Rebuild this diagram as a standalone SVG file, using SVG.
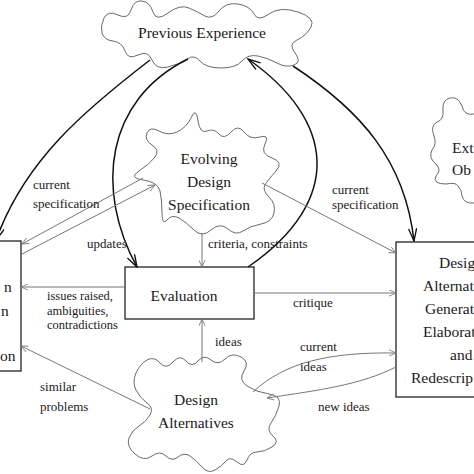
<svg xmlns="http://www.w3.org/2000/svg" width="474" height="474" viewBox="0 0 474 474">
<style>
text{font-family:"Liberation Serif","Times New Roman",serif;fill:#1a1a1a}
.big{font-size:15.5px}
.lab{font-size:13px}
.sm{font-size:12.5px}
.cloud{fill:#fff;stroke:#6a6a6a;stroke-width:1}
.box{fill:#fff;stroke:#222;stroke-width:1.3}
.g{fill:none;stroke:#777;stroke-width:1}
.k{fill:none;stroke:#111;stroke-width:1.5}
</style>
<defs>
<marker id="ag" viewBox="0 0 10 10" refX="10" refY="5" markerWidth="9" markerHeight="7" markerUnits="userSpaceOnUse" orient="auto"><path d="M0,0.5 L10,5 L0,9.5" fill="none" stroke="#777" stroke-width="1.2"/></marker>
<marker id="ak" viewBox="0 0 14 10" refX="14" refY="5" markerWidth="14" markerHeight="9" markerUnits="userSpaceOnUse" orient="auto"><path d="M0,0.5 L14,5 L0,9.5" fill="none" stroke="#111" stroke-width="1.5"/></marker>
</defs>
<g id="previous-experience">
<path class="cloud" d="M102,33 Q100,26 104,18 Q108,10 118,15 Q128,20 131,10 Q134,0 142,1 Q150,2 153,12 Q156,22 168,13 Q180,4 189,8 Q198,12 205,16 Q212,20 219,11 Q226,2 238,4 Q250,6 254,14 Q258,22 269,14 Q280,6 298,12 Q316,18 311,27 Q306,36 297,40 Q288,44 295,53 Q302,62 294,65 Q286,68 277,63 Q268,58 258,56 Q248,54 242,61 Q236,68 221,68 Q206,68 200,61 Q194,54 187,59 Q180,64 168,67 Q156,70 152,60 Q148,50 138,55 Q128,60 125,51 Q122,42 113,41 Q104,40 102,33 Z"/>
<text class="big" x="202" y="38" text-anchor="middle">Previous Experience</text>
</g>
<g id="evolving-design-specification">
<path class="cloud" d="M191,118 Q196,106 198,121 Q200,134 207,131 Q214,128 219,134 Q224,140 231,132 Q238,124 244,132 Q250,140 260,137 Q270,134 265,144 Q260,154 272,158 Q284,162 276,171 Q268,180 265,185 Q262,190 269,197 Q276,204 274,213 Q272,222 261,224 Q250,226 243,231 Q236,236 228,229 Q220,222 211,230 Q202,238 194,230 Q186,222 179,218 Q172,214 167,220 Q162,226 162,213 Q162,200 160,191 Q158,182 143,180 Q128,178 139,171 Q150,164 155,157 Q160,150 152,145 Q144,140 147,133 Q150,126 159,131 Q168,136 177,132 Q186,128 191,118 Z"/>
<text class="big" x="209" y="164" text-anchor="middle">Evolving</text>
<text class="big" x="209" y="187" text-anchor="middle">Design</text>
<text class="big" x="209" y="210" text-anchor="middle">Specification</text>
</g>
<g id="external-objects">
<path class="cloud" d="M490,115 L474,114 Q464,116 462,106 Q458,96 450,98 Q442,100 443,110 Q444,120 437,122 Q430,126 434,136 Q437,144 432,150 Q428,158 436,164 Q442,170 436,176 Q432,184 446,184 Q456,182 458,186 Q462,190 462,196 Q464,204 474,203 L490,203"/>
<text class="big" x="452" y="153">Ext</text>
<text class="big" x="452" y="175">Ob</text>
</g>
<g id="problem-box">
<rect class="box" x="-10" y="241" width="31" height="130"/>
<text class="big" x="4" y="292">n</text>
<text class="big" x="1" y="316">n</text>
<text class="big" x="0" y="361">on</text>
</g>
<g id="evaluation">
<rect class="box" x="125" y="267" width="129" height="52"/>
<text class="big" x="184" y="301" text-anchor="middle">Evaluation</text>
</g>
<g id="design-alternative-generation">
<rect class="box" x="396" y="242" width="100" height="155"/>
<text class="big" x="439" y="268">Desig</text>
<text class="big" x="423" y="291">Alternat</text>
<text class="big" x="425" y="314">Generat</text>
<text class="big" x="423" y="337">Elaborat</text>
<text class="big" x="450" y="360">and</text>
<text class="big" x="411" y="383">Redescrip</text>
</g>
<g id="design-alternatives">
<path class="cloud" d="M136,373 Q140,364 147,360 Q154,356 160,363 Q166,370 173,362 Q180,354 186,361 Q192,368 198,361 Q204,354 211,360 Q218,366 225,359 Q232,352 241,357 Q250,362 244,371 Q238,380 247,386 Q256,392 269,394 Q282,396 279,406 Q276,416 271,423 Q266,430 273,436 Q280,442 272,447 Q264,452 257,452 Q250,452 247,460 Q244,468 237,462 Q230,456 226,461 Q222,466 215,470 Q208,474 202,467 Q196,460 190,456 Q184,452 178,457 Q172,462 166,456 Q160,450 152,456 Q144,462 135,454 Q126,446 129,438 Q132,430 139,426 Q146,422 150,415 Q154,408 147,403 Q140,398 136,390 Q132,382 136,373 Z"/>
<text class="big" x="196" y="405" text-anchor="middle">Design</text>
<text class="big" x="196" y="428" text-anchor="middle">Alternatives</text>
</g>
<g id="connectors">
<path class="k" d="M150,60 C85,110 25,160 -4,240" marker-end="url(#ak)"/>
<path class="k" d="M188,59 C105,100 95,190 137,267" marker-end="url(#ak)"/>
<path class="k" d="M248,267 C345,200 335,120 248,59" marker-end="url(#ak)"/>
<path class="k" d="M293,66 C360,110 405,160 414,241" marker-end="url(#ak)"/>
<path class="g" d="M143,178 L22,244" marker-end="url(#ag)"/>
<path class="g" d="M22,254 L155,185" marker-end="url(#ag)"/>
<path class="g" d="M202,233 L202,267" marker-end="url(#ag)"/>
<path class="g" d="M125,287 L21,287" marker-end="url(#ag)"/>
<path class="g" d="M254,293 L396,293" marker-end="url(#ag)"/>
<path class="g" d="M262,183 L396,253" marker-end="url(#ag)"/>
<path class="g" d="M202,362 L202,319" marker-end="url(#ag)"/>
<path class="g" d="M150,409 L21,346" marker-end="url(#ag)"/>
<path class="g" d="M253,392 C285,362 330,352 396,353" marker-end="url(#ag)"/>
<path class="g" d="M396,367 C360,385 320,390 267,398" marker-end="url(#ag)"/>
<text class="lab" x="33" y="189">current</text>
<text class="lab" x="33" y="208">specification</text>
<text class="lab" x="87" y="248">updates</text>
<text class="lab" x="208" y="248">criteria, constraints</text>
<text class="lab" x="332" y="194">current</text>
<text class="lab" x="332" y="209">specification</text>
<text class="sm" x="47" y="300">issues raised,</text>
<text class="sm" x="47" y="314.5">ambiguities,</text>
<text class="sm" x="47" y="329">contradictions</text>
<text class="lab" x="293" y="307">critique</text>
<text class="lab" x="215" y="346">ideas</text>
<text class="lab" x="300" y="351">current</text>
<text class="lab" x="300" y="371">ideas</text>
<text class="lab" x="318" y="411">new ideas</text>
<text class="lab" x="40" y="391">similar</text>
<text class="lab" x="40" y="411">problems</text>
</g>
</svg>
